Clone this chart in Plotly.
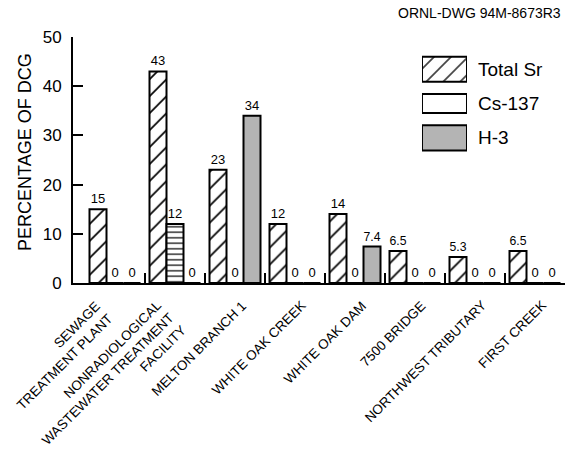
import plotly.graph_objects as go

categories = [
    "SEWAGE<br>TREATMENT PLANT",
    "NONRADIOLOGICAL<br>WASTEWATER TREATMENT<br>FACILITY",
    "MELTON BRANCH 1",
    "WHITE OAK CREEK",
    "WHITE OAK DAM",
    "7500 BRIDGE",
    "NORTHWEST TRIBUTARY",
    "FIRST CREEK",
]
total_sr = [15, 43, 23, 12, 14, 6.5, 5.3, 6.5]
cs_137 = [0, 12, 0, 0, 0, 0, 0, 0]
h_3 = [0, 0, 34, 0, 7.4, 0, 0, 0]
series_names = ["Total Sr", "Cs-137", "H-3"]
y_ticks = [0, 10, 20, 30, 40, 50]
group_boundaries = [0.5, 1.5, 2.5, 3.5, 4.5, 5.5, 6.5, 7.5]

FONT = "Liberation Sans, Arial, sans-serif"
GRAY = "#b4b4b4"
# horizontal pixel nudge of each rotated category label (style only)
LABEL_XSHIFT = {categories[0]: 4}
DEFAULT_XSHIFT = 17

def fmt(v):
    return ("%g" % v)

fig = go.Figure()
common = dict(textposition="outside", cliponaxis=False,
              textfont=dict(size=13, color="black", family=FONT))
fig.add_trace(go.Bar(
    x=categories, y=total_sr, text=[fmt(v) for v in total_sr], name="Total Sr",
    marker=dict(color="white", line=dict(color="black", width=2),
                pattern=dict(shape="/", fgcolor="black", bgcolor="white", fgopacity=1,
                             size=12, solidity=0.14)),
    **common))
fig.add_trace(go.Bar(
    x=categories, y=cs_137, text=[fmt(v) for v in cs_137], name="Cs-137",
    marker=dict(color="white", line=dict(color="black", width=2),
                pattern=dict(shape=["-" if v > 0 else "" for v in cs_137],
                             fgcolor="black", bgcolor="white", fgopacity=1, size=5.5, solidity=0.22)),
    **common))
fig.add_trace(go.Bar(
    x=categories, y=h_3, text=[fmt(v) for v in h_3], name="H-3",
    marker=dict(color=GRAY, line=dict(color="black", width=2)),
    **common))

# group separator ticks (overlay linear axis)
fig.add_trace(go.Scatter(x=[], y=[], xaxis="x2", yaxis="y", showlegend=False, hoverinfo="skip"))

# custom legend boxes
fig.add_trace(go.Bar(
    orientation="h", y=series_names, x=[1, 1, 1], base=0,
    width=[0.73, 0.56, 0.73], xaxis="x3", yaxis="y3", showlegend=False, hoverinfo="skip",
    marker=dict(color=["white", "white", GRAY], line=dict(color="black", width=2),
                pattern=dict(shape=["/", "", ""], fgcolor="black", bgcolor="white", fgopacity=1,
                             size=12, solidity=0.14))))

annotations = [
    dict(text="ORNL-DWG 94M-8673R3", xref="paper", yref="paper", x=1.0, y=1.0,
         xanchor="right", yanchor="middle", yshift=24, xshift=-2, showarrow=False,
         font=dict(size=14, family=FONT, color="black")),
    dict(text="PERCENTAGE OF DCG", xref="paper", yref="paper", x=-0.0976, y=0.5325,
         textangle=-90, xanchor="center", yanchor="middle", showarrow=False,
         font=dict(size=18, family=FONT, color="black")),
]
for cat in categories:
    annotations.append(dict(
        text=cat, x=cat, y=0, xref="x", yref="y", xanchor="right", yanchor="top",
        textangle=-45, align="right", showarrow=False,
        xshift=LABEL_XSHIFT.get(cat, DEFAULT_XSHIFT), yshift=-12,
        font=dict(size=13.5, family=FONT, color="black")))

fig.update_layout(
    width=566, height=455,
    margin=dict(l=73, r=1, t=37, b=172),
    paper_bgcolor="white", plot_bgcolor="white",
    barmode="group", bargap=0.15, bargroupgap=0,
    showlegend=False,
    font=dict(family=FONT, color="black"),
    xaxis=dict(type="category", range=[-0.7, 7.5], showgrid=False, zeroline=False,
               showline=True, linecolor="black", linewidth=2, ticks="",
               showticklabels=False),
    xaxis2=dict(overlaying="x", anchor="y", range=[-0.7, 7.5], tickvals=group_boundaries,
                ticks="inside", ticklen=10, tickwidth=1.5, tickcolor="black",
                showticklabels=False, showgrid=False, zeroline=False, showline=False),
    yaxis=dict(range=[0, 50], tickvals=y_ticks, ticks="inside", ticklen=10, tickwidth=2,
               tickcolor="black", showline=True, linecolor="black", linewidth=2,
               showgrid=False, zeroline=False, ticklabelstandoff=6,
               tickfont=dict(size=17, family=FONT, color="black")),
    xaxis3=dict(domain=[0.7093, 0.8008], anchor="y3", range=[0, 1], visible=False),
    yaxis3=dict(domain=[0.5203, 0.939], anchor="x3", type="category",
                categoryorder="array", categoryarray=series_names, autorange="reversed",
                side="right", ticks="", showline=False, showgrid=False, zeroline=False,
                ticklabelstandoff=10,
                tickfont=dict(size=19, family=FONT, color="black")),
    annotations=annotations,
)

fig.write_html("out.html", config={"displayModeBar": False},
               post_script="document.body.style.margin='0';document.body.style.overflow='hidden';")
